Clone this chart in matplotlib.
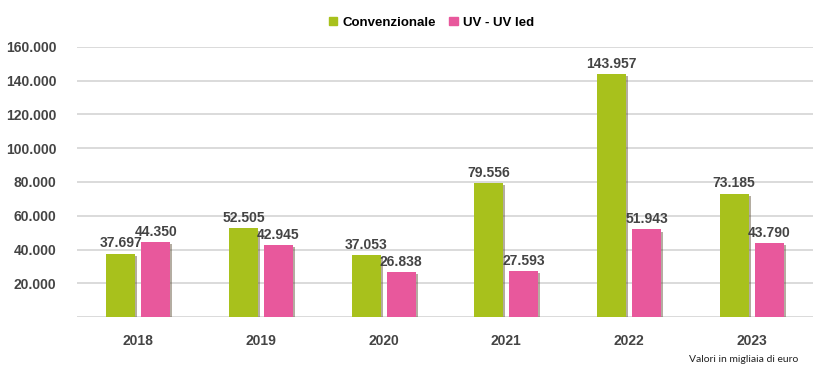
import matplotlib.pyplot as plt
import matplotlib.patheffects as pe
from matplotlib.patches import Patch
import numpy as np

years = ['2018', '2019', '2020', '2021', '2022', '2023']
convenzionale = [37697, 52505, 37053, 79556, 143957, 73185]
uv_led = [44350, 42945, 26838, 27593, 51943, 43790]

green = '#a8c11c'
pink = '#e8589c'
txt = '#444444'

plt.rcParams['font.family'] = ['Liberation Sans', 'DejaVu Sans']

def fmt(v):
    return f'{v:,}'.replace(',', '.')

fig = plt.figure(figsize=(8.33, 3.78), dpi=100)
ax = fig.add_axes([0.0924, 0.1606, 0.8836, 0.7159])

x = np.arange(len(years))
w = 0.236
off = 0.143
shadow = [pe.SimplePatchShadow(offset=(1.5, -1.5), shadow_rgbFace='#5a4a30', alpha=0.45), pe.Normal()]

b1 = ax.bar(x - off, convenzionale, w, color=green, zorder=3)
b2 = ax.bar(x + off, uv_led, w, color=pink, zorder=3)
for b in list(b1) + list(b2):
    b.set_path_effects(shadow)

for xi, v in zip(x - off, convenzionale):
    ax.text(xi, v + 1800, fmt(v), ha='center', va='bottom', fontsize=10,
            fontweight='bold', color=txt)
for xi, v in zip(x + off, uv_led):
    ax.text(xi, v + 1800, fmt(v), ha='center', va='bottom', fontsize=10,
            fontweight='bold', color=txt)

ax.set_xlim(-0.5, 5.5)
ax.set_ylim(0, 160000)
yt = np.arange(20000, 160001, 20000)
ax.set_yticks(yt)
ax.set_yticklabels([fmt(v) for v in yt], fontsize=10, fontweight='bold', color=txt)
ax.set_xticks(x)
ax.set_xticklabels(years, fontsize=10, fontweight='bold', color=txt)
ax.tick_params(length=0, pad=12)
ax.tick_params(axis='y', pad=15)
for y in np.arange(0, 160001, 20000):
    ax.axhline(y, color='#d4d4d4', lw=1.2, zorder=1)
for s in ax.spines.values():
    s.set_visible(False)

handles = [Patch(color=green, label='Convenzionale'), Patch(color=pink, label='UV - UV led')]
fig.legend(handles=handles, loc='center', bbox_to_anchor=(0.518, 0.94), ncol=2,
           frameon=False, prop={'weight': 'bold', 'size': 9.5}, handlelength=0.65,
           handleheight=0.65, handletextpad=0.4, columnspacing=1.0)

fig.text(0.958, 0.048, 'Valori in migliaia di euro', ha='right', va='center',
         fontsize=7.5, color='#222222', family=['Lato', 'DejaVu Sans'])

fig.savefig('out.png', dpi=100)
